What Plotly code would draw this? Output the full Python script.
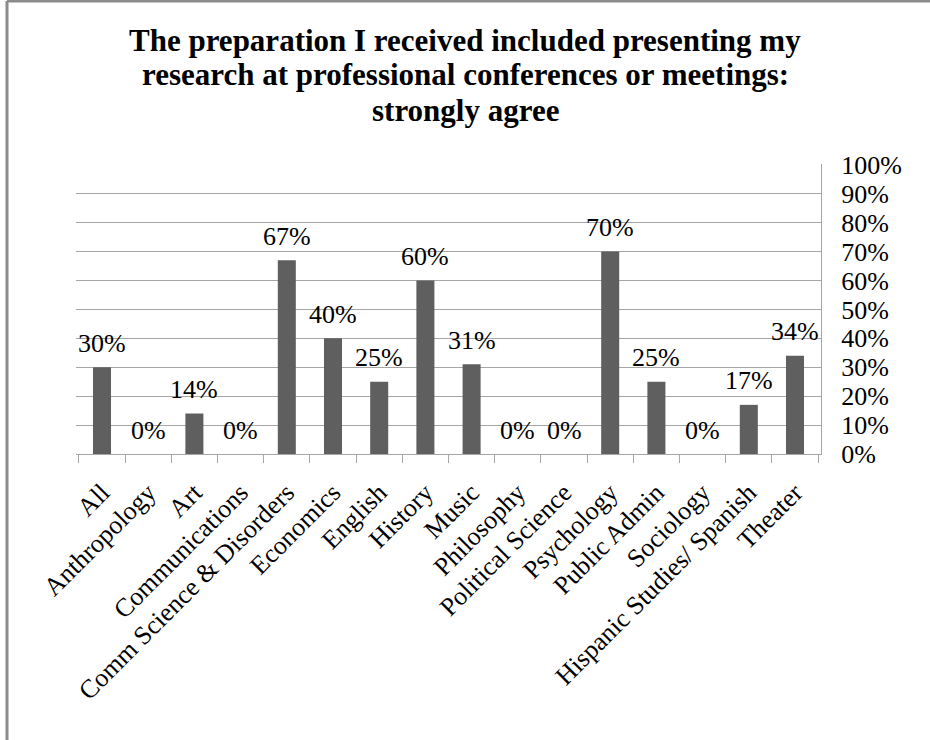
import plotly.graph_objects as go

# Survey responses: share answering "strongly agree", by department
departments = [
    "All", "Anthropology", "Art", "Communications", "Comm Science & Disorders",
    "Economics", "English", "History", "Music", "Philosophy",
    "Political Science", "Psychology", "Public Admin", "Sociology",
    "Hispanic Studies/ Spanish", "Theater",
]
strongly_agree = [0.30, 0.00, 0.14, 0.00, 0.67, 0.40, 0.25, 0.60, 0.31, 0.00,
                  0.00, 0.70, 0.25, 0.00, 0.17, 0.34]
y_ticks = [i / 10 for i in range(11)]
title_lines = [
    "The preparation I received included presenting my",
    "research at professional conferences or meetings:",
    "strongly agree",
]

SERIF = "Liberation Serif, Times New Roman, serif"
GRID = "#a6a6a6"
BAR = "#5f5f5f"
FS = 26

W, H = 930, 740
L, R, T, B = 76, 109, 164, 286
pw, ph = W - L - R, H - T - B


def px_x(x):
    return (x - L) / pw


def px_y(y):
    return (H - B - y) / ph


fig = go.Figure()
fig.add_trace(go.Bar(
    x=departments,
    y=strongly_agree,
    marker=dict(color=BAR, line=dict(width=0)),
    hoverinfo="x+y",
))

# value labels above each bar
for name, v in zip(departments, strongly_agree):
    fig.add_annotation(
        x=name, y=v, text=f"{round(v * 100)}%",
        showarrow=False, yanchor="middle", yshift=24,
        font=dict(family=SERIF, size=FS, color="black"),
    )

# three-line bold title, tightly spaced
for i, line in enumerate(title_lines):
    fig.add_annotation(
        xref="paper", yref="paper", x=px_x(W / 2), y=px_y(40 + 35 * i),
        text=f"<b>{line}</b>", showarrow=False,
        xanchor="center", yanchor="middle",
        font=dict(family=SERIF, size=31, color="black"),
    )

# outer frame (top and left edges)
frame = dict(color="#8c8c8c", width=3)
fig.add_shape(type="line", xref="paper", yref="paper",
              x0=px_x(7), x1=px_x(W + 5), y0=px_y(1), y1=px_y(1), line=frame)
fig.add_shape(type="line", xref="paper", yref="paper",
              x0=px_x(7), x1=px_x(7), y0=px_y(1), y1=px_y(H + 5), line=frame)

fig.update_layout(
    width=W, height=H,
    margin=dict(l=L, r=R, t=T, b=B),
    paper_bgcolor="white", plot_bgcolor="white",
    bargap=0.61,
    showlegend=False,
    xaxis=dict(
        type="category",
        tickangle=-45,
        tickson="boundaries",
        ticks="outside", ticklen=8, tickcolor=GRID, tickwidth=1,
        ticklabelstandoff=12,
        showline=True, linecolor=GRID, linewidth=1,
        showgrid=False,
        tickfont=dict(family=SERIF, size=FS, color="black"),
    ),
    yaxis=dict(
        side="right",
        range=[0, 1.003],
        tickvals=y_ticks,
        tickformat=".0%",
        showgrid=True, gridcolor=GRID, gridwidth=1,
        zeroline=False,
        showline=True, linecolor=GRID, linewidth=1,
        ticks="", ticklabelstandoff=14,
        tickfont=dict(family=SERIF, size=FS, color="black"),
    ),
)

fig.write_html("out.html")
